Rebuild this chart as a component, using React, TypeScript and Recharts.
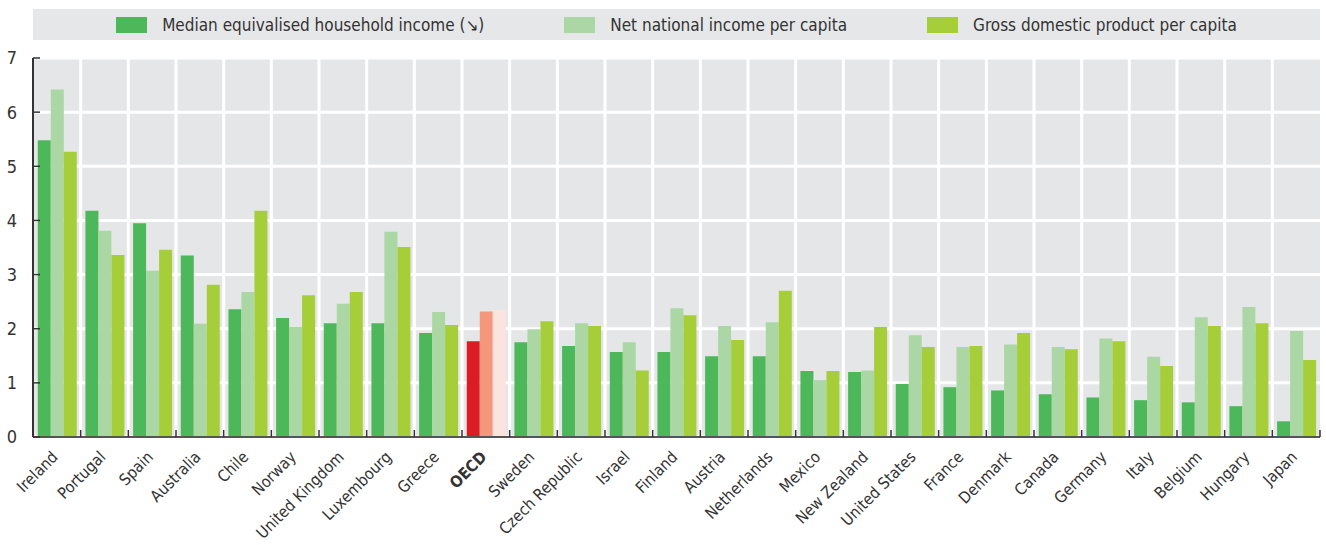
import { BarChart, Bar, XAxis, YAxis, CartesianGrid, Cell } from 'recharts';

const countries = [
  'Ireland', 'Portugal', 'Spain', 'Australia', 'Chile', 'Norway', 'United Kingdom', 'Luxembourg', 'Greece',
  'OECD', 'Sweden', 'Czech Republic', 'Israel', 'Finland', 'Austria', 'Netherlands', 'Mexico', 'New Zealand',
  'United States', 'France', 'Denmark', 'Canada', 'Germany', 'Italy', 'Belgium', 'Hungary', 'Japan',
];
const medianIncome = [
  5.48, 4.18, 3.95, 3.35, 2.36, 2.2, 2.1, 2.1, 1.92,
  1.77, 1.75, 1.68, 1.57, 1.57, 1.49, 1.49, 1.22, 1.2,
  0.98, 0.92, 0.86, 0.79, 0.73, 0.68, 0.64, 0.57, 0.29,
];
const netNationalIncome = [
  6.42, 3.81, 3.07, 2.09, 2.68, 2.03, 2.46, 3.79, 2.31,
  2.32, 1.99, 2.1, 1.75, 2.38, 2.05, 2.12, 1.05, 1.23,
  1.88, 1.66, 1.71, 1.66, 1.82, 1.48, 2.21, 2.4, 1.96,
];
const gdpPerCapita = [
  5.27, 3.36, 3.46, 2.81, 4.18, 2.62, 2.68, 3.51, 2.07,
  2.34, 2.14, 2.05, 1.23, 2.25, 1.79, 2.7, 1.22, 2.03,
  1.66, 1.68, 1.92, 1.62, 1.77, 1.31, 2.05, 2.1, 1.42,
];
const yTicks = [0, 1, 2, 3, 4, 5, 6, 7];

const series = [
  { key: 'median', name: 'Median equivalised household income (\u2198)', color: '#4cb85a', oecd: '#dc1c24' },
  { key: 'nni', name: 'Net national income per capita', color: '#abd7a4', oecd: '#f4977b' },
  { key: 'gdp', name: 'Gross domestic product per capita', color: '#a6ce39', oecd: '#fce4de' },
];

const data = countries.map((country, i) => ({
  country,
  median: medianIncome[i],
  nni: netNationalIncome[i],
  gdp: gdpPerCapita[i],
}));

const W = 1326;
const H = 545;
const Y_W = 33;
const X_H = 108;
const MARGIN = { top: 58, right: 6, bottom: 0, left: 0 };
const PLOT_W = W - MARGIN.left - MARGIN.right - Y_W;
const BAND = PLOT_W / countries.length;
const FONT = "'Liberation Sans Narrow', 'DejaVu Sans Condensed', 'Roboto', sans-serif";

const YTick = ({ x, y, payload }: any) => (
  <g>
    <line x1={x} x2={x + 7} y1={y} y2={y} stroke="#333" strokeWidth={1.5} />
    <text x={x - 16} y={y} dy="0.36em" textAnchor="end" fontSize={18} fill="#333" fontFamily={FONT}>
      {payload.value}
    </text>
  </g>
);

const XTick = ({ x, y, payload, index }: any) => {
  const bold = payload.value === 'OECD';
  return (
    <g>
      <line x1={x - BAND / 2} x2={x - BAND / 2} y1={y} y2={y - 7} stroke="#333" strokeWidth={1.5} />
      {index === countries.length - 1 && (
        <line x1={x + BAND / 2} x2={x + BAND / 2} y1={y} y2={y - 7} stroke="#333" strokeWidth={1.5} />
      )}
      <text
        transform={`translate(${x - 2},${y + 17}) rotate(-45)`}
        textAnchor="end"
        dy="0.35em"
        fontSize={16}
        fontWeight={bold ? 'bold' : 'normal'}
        fill="#333"
        fontFamily={FONT}
      >
        {payload.value}
      </text>
    </g>
  );
};

const ChartLegend = () => (
  <div
    style={{
      position: 'absolute',
      left: Y_W,
      top: 9,
      width: PLOT_W,
      height: 31,
      background: '#e6e7e8',
      display: 'flex',
      justifyContent: 'center',
      alignItems: 'center',
      gap: 80,
      fontFamily: FONT,
      fontSize: 17,
      color: '#333',
    }}
  >
    {series.map((s) => (
      <div key={s.key} style={{ display: 'flex', alignItems: 'center', gap: 15 }}>
        <span style={{ display: 'inline-block', width: 31, height: 16, background: s.color }} />
        <span>{s.name}</span>
      </div>
    ))}
  </div>
);

export default function App() {
  return (
    <div style={{ position: 'absolute', left: 0, top: 0, width: W, height: H, background: '#fff' }}>
      <ChartLegend />
      <BarChart width={W} height={H} data={data} margin={MARGIN} barCategoryGap="10%" barGap={0}>
        <CartesianGrid
          fill="#e5e6e8"
          stroke="#fff"
          strokeWidth={3}
          verticalCoordinatesGenerator={({ offset }: any) =>
            countries.slice(1).map((_, i) => offset.left + ((i + 1) * offset.width) / countries.length)
          }
        />
        <XAxis
          dataKey="country"
          interval={0}
          height={X_H}
          tickSize={0}
          tickMargin={0}
          tickLine={false}
          axisLine={{ stroke: '#555', strokeWidth: 2 }}
          tick={<XTick />}
        />
        <YAxis
          domain={[0, 7]}
          ticks={yTicks}
          width={Y_W}
          tickSize={0}
          tickMargin={0}
          tickLine={false}
          axisLine={{ stroke: '#333', strokeWidth: 2 }}
          tick={<YTick />}
        />
        {series.map((s) => (
          <Bar key={s.key} dataKey={s.key} name={s.name} fill={s.color} isAnimationActive={false}>
            {data.map((d) => (
              <Cell key={d.country} fill={d.country === 'OECD' ? s.oecd : s.color} />
            ))}
          </Bar>
        ))}
      </BarChart>
    </div>
  );
}
